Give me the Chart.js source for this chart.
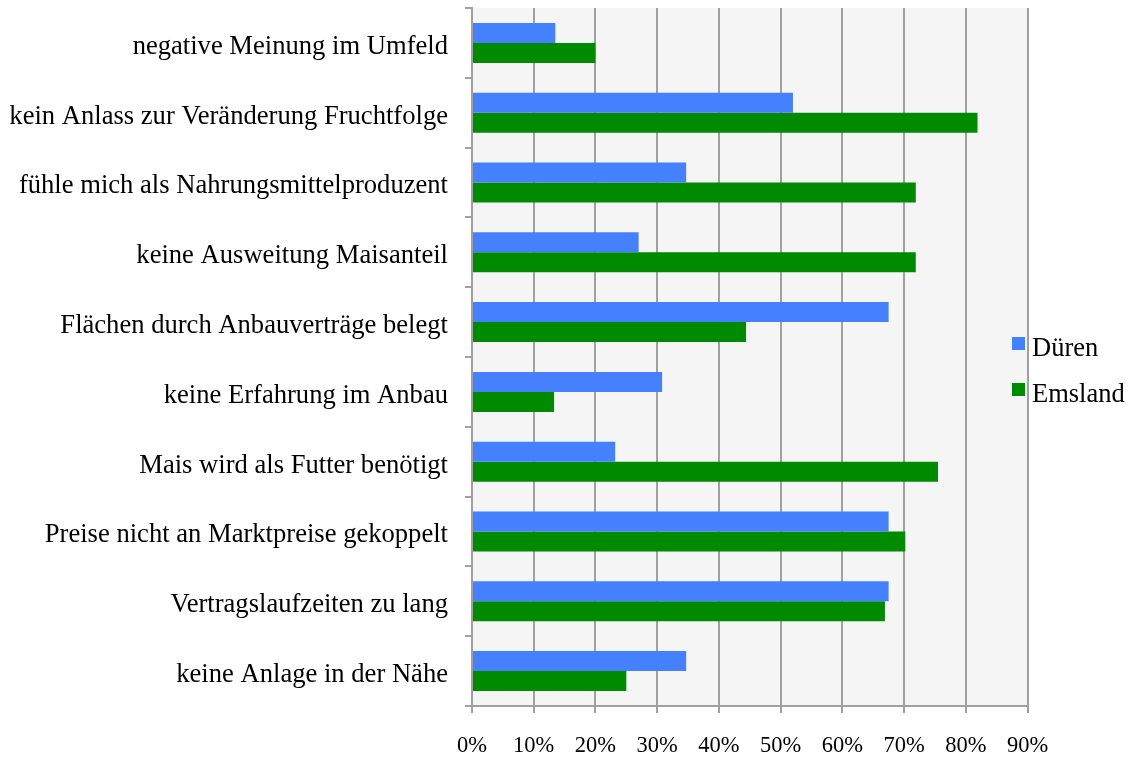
<!DOCTYPE html>
<html>
<head>
<meta charset="utf-8">
<script src="https://cdn.jsdelivr.net/npm/chart.js@4.4.1/dist/chart.umd.min.js"></script>
<style>
  html, body { margin: 0; padding: 0; background: #fff; }
  #wrap { width: 1132px; height: 758px; position: relative; }
</style>
</head>
<body>
<div id="wrap"><canvas id="chart"></canvas></div>
<script>
// categories, top to bottom
const categories = [
  'negative Meinung im Umfeld',
  'kein Anlass zur Veränderung Fruchtfolge',
  'fühle mich als Nahrungsmittelproduzent',
  'keine Ausweitung Maisanteil',
  'Flächen durch Anbauverträge belegt',
  'keine Erfahrung im Anbau',
  'Mais wird als Futter benötigt',
  'Preise nicht an Marktpreise gekoppelt',
  'Vertragslaufzeiten zu lang',
  'keine Anlage in der Nähe'
];

// percent values
const dueren  = [13.5, 52.0, 34.7, 27.0, 67.5, 30.8, 23.2, 67.5, 67.5, 34.7];
const emsland = [20.0, 81.9, 71.9, 71.9, 44.4, 13.3, 75.5, 70.2, 66.9, 25.0];

const seriesNames = ['Düren', 'Emsland'];
const seriesColors = ['#4580FF', '#008A00'];

const xTicks = [0, 10, 20, 30, 40, 50, 60, 70, 80, 90];

const gridColor = '#A0A0A0';
const serif = "'Liberation Serif', 'Times New Roman', serif";

// grey plot background
const plotBg = {
  id: 'plotBg',
  beforeDraw(chart) {
    const { ctx, chartArea: a } = chart;
    ctx.save();
    ctx.fillStyle = '#F5F5F5';
    ctx.fillRect(a.left, a.top, a.right - a.left, a.bottom - a.top);
    ctx.restore();
  }
};

// legend to the right of the plot, drawn by hand
const sideLegend = {
  id: 'sideLegend',
  afterDraw(chart) {
    const { ctx } = chart;
    ctx.save();
    ctx.font = '26.5px ' + serif;
    ctx.textBaseline = 'alphabetic';
    chart.data.datasets.forEach((ds, i) => {
      const y = 337 + i * 46;
      ctx.fillStyle = ds.backgroundColor;
      ctx.fillRect(1012, y, 13, 13);
      ctx.fillStyle = '#000';
      ctx.fillText(ds.label, 1032, y + 19);
    });
    ctx.restore();
  }
};

new Chart(document.getElementById('chart'), {
  type: 'bar',
  data: {
    labels: categories,
    datasets: [
      { label: seriesNames[0], data: dueren, backgroundColor: seriesColors[0] },
      { label: seriesNames[1], data: emsland, backgroundColor: seriesColors[1] }
    ]
  },
  options: {
    indexAxis: 'y',
    responsive: true,
    maintainAspectRatio: false,
    animation: false,
    categoryPercentage: 0.573,
    barPercentage: 1.0,
    layout: { padding: { top: 8, left: 10, right: 104.5, bottom: 0 } },
    plugins: {
      legend: { display: false },
      tooltip: { enabled: false }
    },
    scales: {
      x: {
        min: 0,
        max: 90,
        afterBuildTicks: s => { s.ticks = xTicks.map(v => ({ value: v })); },
        afterFit: s => { s.height = 52; s.paddingLeft = 0; s.paddingRight = 0; },
        grid: { color: gridColor, lineWidth: 2, tickLength: 7, drawTicks: true },
        border: { color: gridColor, width: 2 },
        ticks: {
          color: '#000',
          font: { family: serif, size: 22.5 },
          padding: 20,
          maxRotation: 0,
          callback: v => v + '%'
        }
      },
      y: {
        afterFit: s => { s.width = 462; s.paddingTop = 0; s.paddingBottom = 0; },
        grid: { drawOnChartArea: false, color: gridColor, lineWidth: 2, tickLength: 7 },
        border: { color: gridColor, width: 2 },
        ticks: {
          color: '#000',
          font: { family: serif, size: 26.6 },
          padding: 17,
          labelOffset: 4
        }
      }
    }
  },
  plugins: [plotBg, sideLegend]
});
</script>
</body>
</html>
